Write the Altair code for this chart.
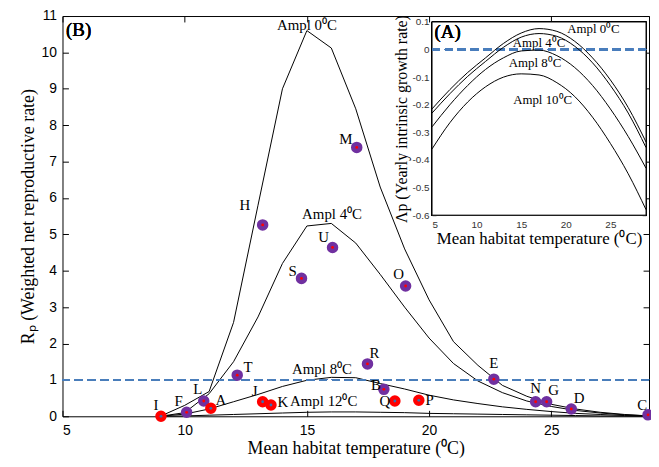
import altair as alt
import pandas as pd

# ---------------- main panel (B) data ----------------
temps = [9, 10, 11, 12, 13, 14, 15, 16, 17, 18, 19, 20, 21, 22, 23, 24, 25, 26, 27, 28, 29]
rp_ampl0 = [0.0, 0.3, 0.68, 2.58, 5.8, 9.0, 10.6, 10.12, 8.45, 6.3, 4.6, 3.2, 2.05, 1.4, 0.85, 0.55, 0.33, 0.2, 0.11, 0.05, 0.01]
rp_ampl4 = [0.0, 0.1, 0.62, 1.5, 2.73, 4.2, 5.23, 5.3, 4.76, 3.9, 3.0, 2.15, 1.45, 0.97, 0.65, 0.42, 0.27, 0.16, 0.09, 0.04, 0.01]
rp_ampl8 = [0.0, 0.06, 0.2, 0.4, 0.6, 0.82, 0.99, 1.07, 1.06, 0.9, 0.75, 0.58, 0.45, 0.35, 0.26, 0.19, 0.13, 0.08, 0.05, 0.02, 0.01]
rp_ampl12 = [0.0, 0.01, 0.03, 0.05, 0.07, 0.09, 0.11, 0.12, 0.12, 0.11, 0.1, 0.08, 0.07, 0.06, 0.05, 0.04, 0.03, 0.02, 0.01, 0.005, 0.0]
main_series = ["Ampl 0", "Ampl 4", "Ampl 8", "Ampl 12"]

pt_labels = ["I", "F", "L", "A", "T", "J", "K", "H", "S", "U", "M", "R", "B", "Q", "P", "O", "E", "N", "G", "D", "C"]
pt_temps = [9.03, 10.08, 10.78, 11.07, 12.15, 13.19, 13.53, 13.19, 14.78, 16.05, 17.04, 17.48, 18.15, 18.6, 19.58, 19.04, 22.65, 24.36, 24.81, 25.82, 28.96]
pt_rp = [0.0, 0.11, 0.42, 0.22, 1.13, 0.40, 0.31, 5.26, 3.79, 4.64, 7.39, 1.44, 0.74, 0.42, 0.44, 3.58, 1.02, 0.40, 0.40, 0.20, 0.04]
pt_kind = ["red", "purple", "purple", "red", "purple", "red", "red", "purple", "purple", "purple", "purple",
           "purple", "purple", "red", "red", "purple", "purple", "purple", "purple", "purple", "purple"]

main_curve_labels = ["Ampl 0⁰C", "Ampl 4⁰C", "Ampl 8⁰C", "Ampl 12⁰C"]
main_curve_label_x = [15.0, 16.03, 15.62, 15.69]
main_curve_label_y = [10.76, 5.56, 1.31, 0.42]

# ---------------- inset (A) data ----------------
inset_temps = [5, 7, 9, 11, 13, 15, 17, 19, 21, 23, 25, 27, 29]
lam_ampl0 = [-0.215, -0.145, -0.083, -0.03, 0.022, 0.06, 0.076, 0.066, 0.03, -0.03, -0.11, -0.21, -0.335]
lam_ampl4 = [-0.23, -0.16, -0.097, -0.043, 0.008, 0.045, 0.058, 0.048, 0.012, -0.048, -0.13, -0.23, -0.355]
lam_ampl8 = [-0.28, -0.2, -0.13, -0.072, -0.03, -0.005, -0.002, -0.022, -0.065, -0.13, -0.215, -0.315, -0.43]
lam_ampl10 = [-0.36, -0.265, -0.19, -0.135, -0.1, -0.088, -0.092, -0.12, -0.17, -0.245, -0.34, -0.45, -0.58]
inset_series = ["Ampl 0", "Ampl 4", "Ampl 8", "Ampl 10"]

inset_curve_labels = ["Ampl 0⁰C", "Ampl 4⁰C", "Ampl 8⁰C", "Ampl 10⁰C"]
inset_curve_label_x = [23.1, 17.0, 16.55, 17.4]
inset_curve_label_y = [0.074, 0.022, -0.05, -0.184]

x_ticks = [5, 10, 15, 20, 25]
main_y_ticks = list(range(0, 12))
inset_y_ticks = [-0.6, -0.5, -0.4, -0.3, -0.2, -0.1, 0, 0.1]

# ---------------- styling ----------------
W, H = 592, 404
PURPLE = "#7030A0"
RED = "#FF0000"
DASH_BLUE = "#4a7ebb"
SERIF = "Liberation Serif"
SANS = "Liberation Sans"

# label offsets in pixels (style only)
label_offsets = {
    "I": (-5, -11), "F": (-8, -11), "L": (-6, -12), "A": (10, -8), "T": (11, -8),
    "J": (-8, -11), "K": (12, -3), "H": (-18, -20), "U": (-9, -10), "S": (-9, -7),
    "O": (-7, -12), "R": (7, -11), "B": (-8, -4), "Q": (-10, 0), "P": (11, 0),
    "M": (-11, -8), "E": (0, -16), "N": (0, -14), "G": (7, -12), "D": (8, -11), "C": (-6, -10),
}

# ---------------- tables ----------------
rows = []
for s, vals in zip(main_series, [rp_ampl0, rp_ampl4, rp_ampl8, rp_ampl12]):
    for t, v in zip(temps, vals):
        rows.append({"temp": t, "value": v, "series": s})
curves_df = pd.DataFrame(rows)

pts_df = pd.DataFrame({
    "label": pt_labels, "temp": pt_temps, "rp": pt_rp,
    "fill": [PURPLE if k == "purple" else RED for k in pt_kind],
    "dot": [RED if k == "purple" else "#3a6fb0" for k in pt_kind],
})

clab_df = pd.DataFrame({"text": main_curve_labels, "x": main_curve_label_x, "y": main_curve_label_y})

irows = []
for s, vals in zip(inset_series, [lam_ampl0, lam_ampl4, lam_ampl8, lam_ampl10]):
    for t, v in zip(inset_temps, vals):
        irows.append({"temp": t, "value": v, "series": s})
inset_df = pd.DataFrame(irows)
ilab_df = pd.DataFrame({"text": inset_curve_labels, "x": inset_curve_label_x, "y": inset_curve_label_y})

# ---------------- scales ----------------
xs = alt.Scale(domain=[5, 29], nice=False, zero=False)
ys = alt.Scale(domain=[0, 11], nice=False, zero=False)
xs_in = alt.Scale(domain=[5, 29], range=[373, 589], nice=False, zero=False)
ys_in = alt.Scale(domain=[-0.6, 0.1], range=[201, 6], nice=False, zero=False)

def tick_axis(orient, offset, values, size=6):
    return alt.Axis(orient=orient, offset=offset, values=values, labels=False, domain=False,
                    grid=False, ticks=True, tickSize=size, tickColor="black", tickWidth=1, title=None)

# ---------------- main panel ----------------
curves = alt.Chart(curves_df).mark_line(color="black", strokeWidth=1).encode(
    x=alt.X("temp:Q", scale=xs, axis=alt.Axis(
        orient="bottom", values=x_ticks, ticks=False, domain=False, grid=False,
        labelFont=SANS, labelFontSize=14, labelColor="black", labelPadding=7,
        title="Mean habitat temperature (⁰C)", titleFont=SERIF, titleFontSize=18,
        titleFontWeight="normal", titleColor="black", titlePadding=3)),
    y=alt.Y("value:Q", scale=ys, axis=alt.Axis(
        orient="left", values=main_y_ticks, ticks=False, domain=False, grid=False,
        labelFont=SANS, labelFontSize=14, labelColor="black", labelPadding=6,
        title="Rₚ (Weighted net reproductive rate)", titleFont=SERIF, titleFontSize=18,
        titleFontWeight="normal", titleColor="black", titlePadding=4)),
    detail="series:N",
)

dashed = alt.Chart(curves_df).mark_rule(color=DASH_BLUE, strokeDash=[8, 5], strokeWidth=1.6).encode(
    y=alt.YDatum(1, scale=ys, axis=None),
)

pts = alt.Chart(pts_df).mark_circle(size=135, opacity=1).encode(
    x=alt.X("temp:Q", scale=xs, axis=tick_axis("top", -H, x_ticks)),
    y=alt.Y("rp:Q", scale=ys, axis=tick_axis("right", -W, main_y_ticks)),
    color=alt.Color("fill:N", scale=None),
)

dots = alt.Chart(pts_df).mark_circle(size=8, opacity=1).encode(
    x=alt.X("temp:Q", scale=xs, axis=tick_axis("bottom", -H, x_ticks)),
    y=alt.Y("rp:Q", scale=ys, axis=tick_axis("left", -W, main_y_ticks)),
    color=alt.Color("dot:N", scale=None),
)

label_layers = []
for lab in pt_labels:
    dx, dy = label_offsets[lab]
    label_layers.append(
        alt.Chart(pts_df[pts_df["label"] == lab]).mark_text(
            font=SERIF, fontSize=15, color="black", dx=dx, dy=dy, baseline="middle", align="center"
        ).encode(
            x=alt.X("temp:Q", scale=xs, axis=None),
            y=alt.Y("rp:Q", scale=ys, axis=None),
            text="label:N",
        )
    )

curve_labels = alt.Chart(clab_df).mark_text(
    font=SERIF, fontSize=15, color="black", baseline="middle", align="center"
).encode(
    x=alt.X("x:Q", scale=xs, axis=None),
    y=alt.Y("y:Q", scale=ys, axis=None),
    text="text:N",
)

panel_b = alt.Chart(clab_df).mark_text(
    font=SERIF, fontSize=19, fontWeight="normal", color="black", baseline="middle", align="center"
).encode(
    x=alt.XDatum(5.66, scale=xs, axis=None),
    y=alt.YDatum(10.62, scale=ys, axis=None),
    text=alt.value("(B)"),
)

main = alt.layer(curves, dashed, pts, dots, curve_labels, panel_b, *label_layers).resolve_axis(
    x="independent", y="independent"
)

# ---------------- inset panel ----------------
inset_box = alt.Chart(inset_df).mark_rect(fill="white", stroke="black", strokeWidth=1).encode(
    x=alt.XDatum(inset_temps[0], type="quantitative", scale=xs_in, axis=alt.Axis(
        orient="bottom", offset=-(H - 201), values=x_ticks, ticks=False, domain=False, grid=False,
        labelFont=SANS, labelFontSize=10, labelColor="#333333", labelPadding=4,
        title="Mean habitat temperature (⁰C)", titleFont=SERIF, titleFontSize=17,
        titleFontWeight="normal", titleColor="black", titlePadding=2)),
    x2=alt.X2Datum(inset_temps[-1]),
    y=alt.YDatum(inset_y_ticks[0], type="quantitative", scale=ys_in, axis=alt.Axis(
        orient="left", offset=-373, values=inset_y_ticks, ticks=False, domain=False, grid=False,
        labelFont=SANS, labelFontSize=10, labelColor="#333333", labelPadding=3,
        labelExpr="toString(round(datum.value*10)/10)",
        title="Λp (Yearly intrinsic growth rate)", titleFont=SERIF, titleFontSize=16,
        titleFontWeight="normal", titleColor="black", titlePadding=3)),
    y2=alt.Y2Datum(inset_y_ticks[-1]),
)

inset_curves = alt.Chart(inset_df).mark_line(color="black", strokeWidth=1, interpolate="monotone").encode(
    x=alt.X("temp:Q", scale=xs_in, axis=tick_axis("top", -201, x_ticks, 4)),
    y=alt.Y("value:Q", scale=ys_in, axis=tick_axis("right", 373 - W, inset_y_ticks, 4)),
    detail="series:N",
)

inset_dash = alt.Chart(inset_df).mark_rule(color=DASH_BLUE, strokeDash=[8, 5], strokeWidth=1.6).encode(
    x=alt.XDatum(inset_temps[0], type="quantitative", scale=xs_in, axis=tick_axis("bottom", 6 - H, x_ticks, 4)),
    x2=alt.X2Datum(inset_temps[-1]),
    y=alt.YDatum(0, type="quantitative", scale=ys_in, axis=tick_axis("left", -589, inset_y_ticks, 4)),
)

inset_labels = alt.Chart(ilab_df).mark_text(
    font=SERIF, fontSize=13, color="black", baseline="middle", align="center"
).encode(
    x=alt.X("x:Q", scale=xs_in, axis=None),
    y=alt.Y("y:Q", scale=ys_in, axis=None),
    text="text:N",
)

panel_a = alt.Chart(ilab_df).mark_text(
    font=SERIF, fontSize=19, fontWeight="normal", color="black", baseline="middle", align="center"
).encode(
    x=alt.XDatum(6.75, scale=xs_in, axis=None),
    y=alt.YDatum(0.064, scale=ys_in, axis=None),
    text=alt.value("(A)"),
)

inset = alt.layer(inset_box, inset_dash, inset_curves, inset_labels, panel_a).resolve_axis(
    x="independent", y="independent"
)

chart = alt.layer(main, inset).resolve_scale(
    x="independent", y="independent"
).properties(
    width=W, height=H,
    autosize=alt.AutoSizeParams(type="none"),
    padding={"left": 55, "top": 6, "right": 2, "bottom": 40},
    background="white",
).configure_view(stroke="black", strokeWidth=1)

chart.save("out.html", embed_options={"renderer": "svg", "actions": False})
